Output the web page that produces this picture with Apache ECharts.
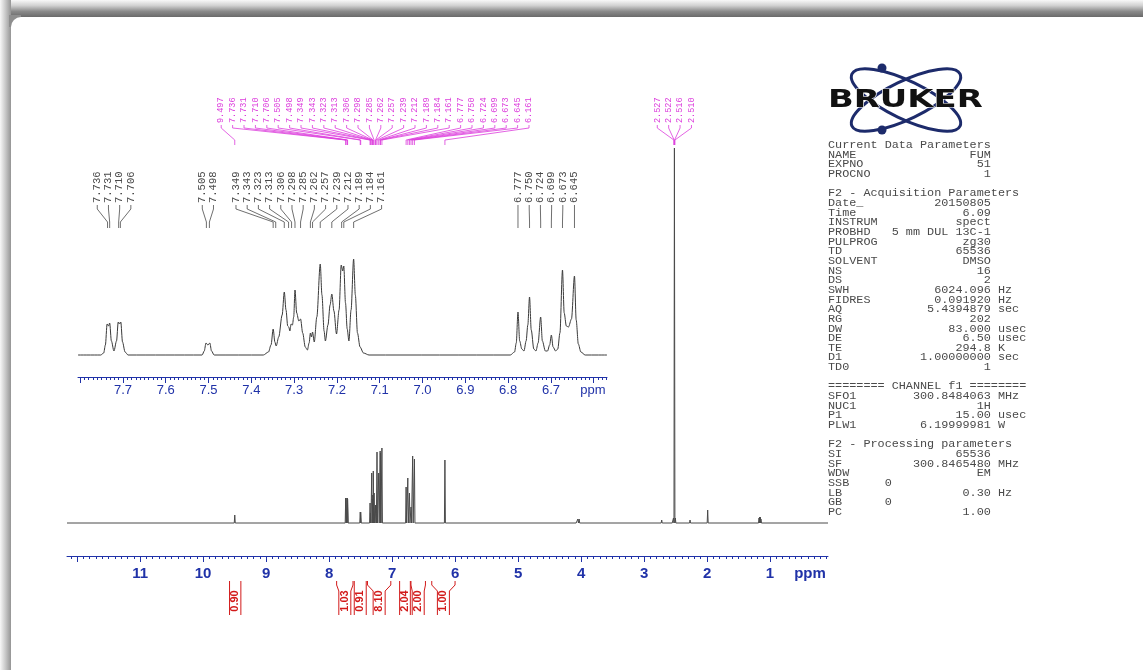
<!DOCTYPE html>
<html><head><meta charset="utf-8">
<script src="https://cdn.jsdelivr.net/npm/echarts@6/dist/echarts.min.js"></script>
<style>html,body{margin:0;padding:0;background:#fff}#c{width:1143px;height:670px}</style>
</head><body><div id="c"></div>
<script>
// ---------------- DATA ----------------
const mainTickLabels = [11, 10, 9, 8, 7, 6, 5, 4, 3, 2, 1];
const insetTickLabels = [7.7, 7.6, 7.5, 7.4, 7.3, 7.2, 7.1, 7.0, 6.9, 6.8, 6.7];

// full spectrum: line positions (ppm) and heights
const mainShift = [9.497, 7.736, 7.731, 7.710, 7.706, 7.505, 7.498,
  7.349, 7.343, 7.323, 7.313, 7.306, 7.298, 7.285, 7.262, 7.257, 7.239, 7.212, 7.189, 7.184, 7.161,
  6.777, 6.750, 6.724, 6.699, 6.673, 6.645, 6.161,
  4.07, 4.05, 4.03, 4.01, 2.72, 2.545, 2.533, 2.518, 2.503, 2.491, 2.27, 1.99,
  1.175, 1.165, 1.155, 1.145];
const mainHeight = [8, 25, 25, 25, 24, 11, 11,
  20, 10, 50, 24, 28, 52, 30, 18, 18, 71, 50, 72, 70, 75,
  36, 45, 30, 16, 67, 64, 63,
  2, 4, 4, 2, 3, 2, 5, 375, 5, 2, 3, 13,
  5, 6, 6, 4];

// expanded region 7.8 - 6.57 ppm: trace vertices (ppm, intensity)
const insetShift = [7.805, 7.752, 7.745, 7.741, 7.737, 7.7335, 7.731, 7.727, 7.721, 7.715, 7.711, 7.708, 7.705, 7.701, 7.695, 7.688,
  7.515, 7.510, 7.506, 7.5015, 7.497, 7.493, 7.487,
  7.372, 7.360, 7.354, 7.349, 7.345, 7.342, 7.336, 7.328, 7.323, 7.319, 7.315, 7.3125, 7.310, 7.307, 7.304, 7.301, 7.298,
  7.294, 7.289, 7.285, 7.280, 7.274, 7.269, 7.265, 7.262, 7.2595, 7.257, 7.253, 7.247, 7.239, 7.235, 7.230, 7.227, 7.221,
  7.216, 7.212, 7.207, 7.201, 7.195, 7.190, 7.1865, 7.184, 7.180, 7.176, 7.172, 7.167, 7.161, 7.157, 7.152, 7.146, 7.138, 7.125,
  6.795, 6.785, 6.781, 6.777, 6.773, 6.768, 6.763, 6.758, 6.754, 6.750, 6.746, 6.740, 6.735, 6.730, 6.724, 6.720, 6.713,
  6.708, 6.703, 6.699, 6.695, 6.689, 6.684, 6.679, 6.673, 6.669, 6.664, 6.659, 6.652, 6.645, 6.641, 6.636, 6.630, 6.620, 6.569];
const insetIntensity = [0, 0, 2, 10, 31, 29, 32, 14, 4, 14, 33, 31, 33, 13, 3, 0,
  0, 4, 12, 10, 12, 4, 0,
  0, 3, 10, 26, 13, 9, 18, 40, 63, 45, 29, 28, 24, 31, 30, 38, 65,
  42, 34, 36, 22, 8, 5, 12, 22, 18, 23, 13, 38, 91, 60, 24, 14, 30,
  50, 61, 44, 21, 45, 90, 84, 89, 52, 26, 14, 45, 96, 60, 22, 8, 2, 0,
  0, 3, 12, 43, 14, 6, 4, 14, 30, 58, 25, 6, 4, 12, 38, 14, 4,
  4, 10, 20, 8, 4, 6, 22, 85, 42, 29, 28, 36, 79, 35, 11, 3, 0, 0];

// peak-pick labels
const topPeakShift = [9.497, 7.736, 7.731, 7.710, 7.706, 7.505, 7.498, 7.349, 7.343, 7.323, 7.313, 7.306, 7.298,
  7.285, 7.262, 7.257, 7.239, 7.212, 7.189, 7.184, 7.161, 6.777, 6.750, 6.724, 6.699, 6.673, 6.645, 6.161];
const dmsoPeakShift = [2.527, 2.522, 2.516, 2.510];
const insetPeakShift = [7.736, 7.731, 7.710, 7.706, 7.505, 7.498, 7.349, 7.343, 7.323, 7.313, 7.306, 7.298,
  7.285, 7.262, 7.257, 7.239, 7.212, 7.189, 7.184, 7.161, 6.777, 6.750, 6.724, 6.699, 6.673, 6.645];

// integrals
const integralFrom = [9.58, 7.88, 7.60, 7.39, 6.88, 6.70, 6.37];
const integralTo = [9.40, 7.62, 7.41, 7.02, 6.71, 6.47, 6.00];
const integralValue = [0.90, 1.03, 0.91, 8.10, 2.04, 2.00, 1.00];

// parameter block
const paramRows = [
  ['Current Data Parameters'], ['NAME', 'FUM'], ['EXPNO', '51'], ['PROCNO', '1'], [''],
  ['F2 - Acquisition Parameters'], ['Date_', '20150805'], ['Time', '6.09'], ['INSTRUM', 'spect'],
  ['PROBHD', '5 mm DUL 13C-1'], ['PULPROG', 'zg30'], ['TD', '65536'], ['SOLVENT', 'DMSO'], ['NS', '16'],
  ['DS', '2'], ['SWH', '6024.096', 'Hz'], ['FIDRES', '0.091920', 'Hz'], ['AQ', '5.4394879', 'sec'],
  ['RG', '202'], ['DW', '83.000', 'usec'], ['DE', '6.50', 'usec'], ['TE', '294.8', 'K'],
  ['D1', '1.00000000', 'sec'], ['TD0', '1'], [''],
  ['======== CHANNEL f1 ========'], ['SFO1', '300.8484063', 'MHz'], ['NUC1', '1H'],
  ['P1', '15.00', 'usec'], ['PLW1', '6.19999981', 'W'], [''],
  ['F2 - Processing parameters'], ['SI', '65536'], ['SF', '300.8465480', 'MHz'], ['WDW', 'EM'],
  ['SSB     0'], ['LB', '0.30', 'Hz'], ['GB      0'], ['PC', '1.00']
];

// ---------------- CHART ----------------
const blue = '#2032a8';
const red = '#d21a1a';
const magenta = '#dc3cdc';
const chart = echarts.init(document.getElementById('c'));

const mainMajor = [], mainMinor = [], insetMajor = [], insetMinor = [];
for (let i = 1; i <= 12; i++) mainMajor.push(i);
for (let i = 1; i <= 121; i++) mainMinor.push(+(i / 10).toFixed(2));
for (let i = 66; i <= 78; i++) insetMajor.push(+(i / 10).toFixed(2));
for (let i = 657; i <= 780; i++) insetMinor.push(+(i / 100).toFixed(3));

const peaks = mainShift.map((p, i) => [p, mainHeight[i]]).sort((a, b) => b[0] - a[0]);
const mainData = [[12.16, 0]];
peaks.forEach(([p, h]) => { mainData.push([p + 0.008, 0], [p, h], [p - 0.008, 0]); });
mainData.push([0.08, 0]);
const insetData = insetShift.map((p, i) => [p, insetIntensity[i]]);

function xAxisCfg(grid, min, max, ticks, len, labels, fmt, labelStyle, showLine) {
  return {
    gridIndex: grid, type: 'value', inverse: true, min: min, max: max, position: 'bottom',
    axisLine: { show: showLine, onZero: false, lineStyle: { color: blue, width: 1 } },
    axisTick: { show: true, customValues: ticks, length: len, lineStyle: { color: blue, width: 1 } },
    axisLabel: labels ? Object.assign({ show: true, customValues: labels, formatter: fmt, color: blue }, labelStyle) : { show: false },
    splitLine: { show: false }
  };
}

const option = {
  backgroundColor: '#ffffff',
  animation: false,
  grid: [
    { left: 67, top: 148, width: 761, height: 408 },
    { left: 78, top: 255, width: 529, height: 122 }
  ],
  xAxis: [
    xAxisCfg(0, 0.08, 12.16, mainMajor, 6, mainTickLabels, v => String(Math.round(v)),
      { margin: 10, fontSize: 15, fontWeight: 'bold', fontFamily: 'Liberation Sans' }, true),
    xAxisCfg(0, 0.08, 12.16, mainMinor, 3, null, null, null, false),
    xAxisCfg(1, 6.569, 7.805, insetMajor, 6, insetTickLabels, v => v.toFixed(1),
      { margin: 7, fontSize: 13, fontFamily: 'Liberation Sans' }, true),
    xAxisCfg(1, 6.569, 7.805, insetMinor, 3, null, null, null, false)
  ],
  yAxis: [
    { gridIndex: 0, type: 'value', min: -33, max: 375, show: false },
    { gridIndex: 1, type: 'value', min: -22, max: 100, show: false }
  ],
  series: [
    { type: 'line', xAxisIndex: 0, yAxisIndex: 0, data: mainData, symbol: 'none', silent: true,
      lineStyle: { color: '#4a4a4a', width: 1 } },
    { type: 'line', xAxisIndex: 2, yAxisIndex: 1, data: insetData, symbol: 'none', silent: true,
      smooth: 0.3, smoothMonotone: 'x', lineStyle: { color: '#3a3a3a', width: 1 } },
    { type: 'custom', xAxisIndex: 0, yAxisIndex: 0, clip: false, silent: true,
      data: integralFrom.map((f, i) => [f, integralTo[i], integralValue[i]]),
      encode: { x: [0, 1], y: 2 },
      renderItem: function (params, api) {
        const a = api.coord([api.value(0), 0])[0];
        const b = api.coord([api.value(1), 0])[0];
        const xl = Math.min(a, b), xr = Math.max(a, b), xc = (xl + xr) / 2;
        const il = Math.max(xl, xc - 6), ir = Math.min(xr, xc + 6);
        const st = { stroke: red, lineWidth: 1, fill: null };
        return { type: 'group', children: [
          { type: 'polyline', shape: { points: [[xl, 581], [xl, 585], [il, 591], [il, 615]] }, style: st },
          { type: 'polyline', shape: { points: [[xr, 581], [xr, 585], [ir, 591], [ir, 615]] }, style: st },
          { type: 'text', x: xc, y: 601, rotation: Math.PI / 2,
            style: { text: api.value(2).toFixed(2), fill: red, font: 'bold 11px "Liberation Sans"', align: 'center', verticalAlign: 'middle' } }
        ] };
      }
    }
  ]
};
chart.setOption(option);

// ---------------- ANNOTATIONS ----------------
function spread(xs, gap) {
  let groups = xs.map(x => ({ n: 1, sum: x }));
  const start = g => g.sum / g.n - (g.n - 1) * gap / 2;
  const end = g => g.sum / g.n + (g.n - 1) * gap / 2;
  let merged = true;
  while (merged) {
    merged = false;
    for (let i = 0; i < groups.length - 1; i++) {
      if (start(groups[i + 1]) - end(groups[i]) < gap) {
        groups.splice(i, 2, { n: groups[i].n + groups[i + 1].n, sum: groups[i].sum + groups[i + 1].sum });
        merged = true; break;
      }
    }
  }
  const out = [];
  groups.forEach(g => { const s = start(g); for (let k = 0; k < g.n; k++) out.push(s + k * gap); });
  return out;
}
function labelGroup(shifts, axisIdx, gap, cfg) {
  const items = shifts.map(s => ({ s: s, x: chart.convertToPixel({ xAxisIndex: axisIdx }, s) })).sort((a, b) => a.x - b.x);
  const pos = spread(items.map(i => i.x), gap);
  const els = [];
  items.forEach((it, k) => {
    const lx = pos[k];
    els.push({ type: 'polyline', silent: true,
      shape: { points: [[lx, cfg.y0], [lx, cfg.y1], [it.x, cfg.y2], [it.x, cfg.y3]] },
      style: { stroke: cfg.color, lineWidth: cfg.lw, fill: null } });
    els.push({ type: 'text', silent: true, x: lx, y: cfg.textY, rotation: Math.PI / 2,
      style: { text: it.s.toFixed(3), fill: cfg.color, font: cfg.font, align: 'left', verticalAlign: 'middle' } });
  });
  return els;
}

const paramLines = paramRows.map(r => {
  if (r.length === 1) return r[0];
  return r[0].padEnd(23 - r[1].length) + r[1] + (r[2] ? ' ' + r[2] : '');
});

const grad = (x2, y2, stops) => ({ type: 'linear', x: 0, y: 0, x2: x2, y2: y2,
  colorStops: stops.map((c, i) => ({ offset: i / (stops.length - 1), color: c })) });

const elements = [
  { type: 'rect', silent: true, shape: { x: 0, y: 0, width: 1143, height: 17 }, style: { fill: grad(0, 1, ['#f8f8f8', '#d0d0d0', '#8a8a8a', '#6a6a6a']) } },
  { type: 'rect', silent: true, shape: { x: 0, y: 0, width: 11, height: 670 }, style: { fill: grad(1, 0, ['#f8f8f8', '#c8c8c8', '#959595']) } },
  { type: 'rect', silent: true, shape: { x: 9, y: 15, width: 12, height: 12 }, style: { fill: '#8e8e8e' } },
  { type: 'rect', silent: true, shape: { x: 11, y: 17, width: 1140, height: 660, r: [10, 0, 0, 0] }, style: { fill: '#ffffff' } },
  // logo
  { type: 'ellipse', silent: true, x: 906, y: 100, rotation: 0.45, shape: { cx: 0, cy: 0, rx: 60, ry: 19 }, style: { stroke: '#1d2b6b', lineWidth: 3, fill: null } },
  { type: 'ellipse', silent: true, x: 906, y: 100, rotation: -0.45, shape: { cx: 0, cy: 0, rx: 60, ry: 19 }, style: { stroke: '#1d2b6b', lineWidth: 3, fill: null } },
  { type: 'circle', silent: true, shape: { cx: 882, cy: 68, r: 4.5 }, style: { fill: '#1d2b6b' } },
  { type: 'circle', silent: true, shape: { cx: 882, cy: 130, r: 4.5 }, style: { fill: '#1d2b6b' } },
  { type: 'text', silent: true, x: 828, y: 101, scaleX: 1.41,
    style: { text: 'BRUKER', fill: '#111111', font: 'bold 24px "DejaVu Sans"', align: 'left', verticalAlign: 'middle', stroke: '#ffffff', lineWidth: 1 } },
  // parameters
  { type: 'text', silent: true, x: 828, y: 140,
    style: { text: paramLines.join('\n'), fill: '#4a4a4a', font: '11.8px "Liberation Mono"', lineHeight: 9.66, align: 'left', verticalAlign: 'top' } },
  // ppm unit labels
  { type: 'text', silent: true, x: 810, y: 574, style: { text: 'ppm', fill: blue, font: 'bold 15px "Liberation Sans"', align: 'center', verticalAlign: 'middle' } },
  { type: 'text', silent: true, x: 593, y: 390, style: { text: 'ppm', fill: blue, font: '13px "Liberation Sans"', align: 'center', verticalAlign: 'middle' } }
];

const topCfg = { y0: 125, y1: 128, y2: 140, y3: 145, textY: 123, color: magenta, lw: 0.8, font: '8.5px "Liberation Mono"' };
const insetCfg = { y0: 205, y1: 209, y2: 222, y3: 228, textY: 203, color: '#4a4a4a', lw: 0.8, font: '10.5px "Liberation Mono"' };
const all = elements
  .concat(labelGroup(topPeakShift, 0, 11.4, topCfg))
  .concat(labelGroup(dmsoPeakShift, 0, 11.4, topCfg))
  .concat(labelGroup(insetPeakShift, 2, 11.2, insetCfg));

all.slice(0, 4).forEach(e => { e.z = -10; });
chart.setOption({ graphic: { elements: all } });
</script></body></html>
